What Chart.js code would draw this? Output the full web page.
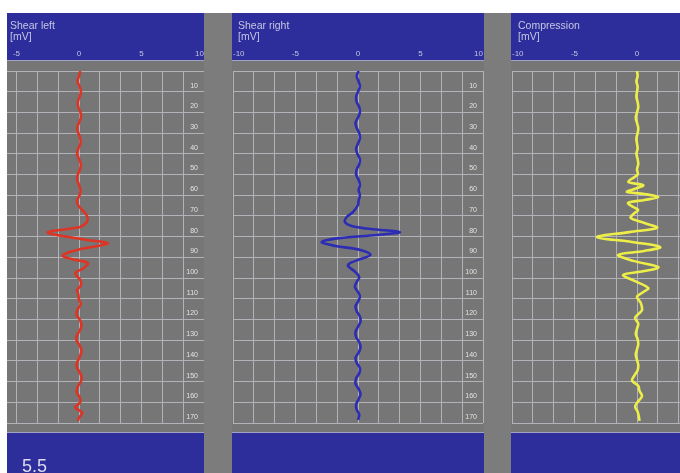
<!DOCTYPE html>
<html>
<head>
<meta charset="utf-8">
<script src="https://cdn.jsdelivr.net/npm/chart.js@4.4.0/dist/chart.umd.min.js"></script>
<style>
  html, body { margin: 0; padding: 0; background: #fff; }
  body { width: 680px; height: 473px; position: relative; overflow: hidden; font-family: "Liberation Sans", Arial, sans-serif; }
  #back { position: absolute; left: 7px; top: 13px; width: 673px; height: 460px; background: #7c7c7c; }
  .clip { position: absolute; top: 13px; height: 460px; overflow: hidden; }
  .panel { position: absolute; top: 0; width: 252px; height: 460px; }
  .title { position: absolute; top: 20px; color: #c6c6e4; font-size: 10.5px; line-height: 11px; white-space: pre; }
  .foot { position: absolute; left: 22px; top: 457px; color: #dcdcee; font-size: 18px; line-height: 18px; }
</style>
</head>
<body>
<div id="back"></div>
<div class="clip" style="left:7px;width:197px"><div class="panel" style="left:-54px"><canvas id="c1"></canvas></div></div>
<div class="clip" style="left:232px;width:252px"><div class="panel" style="left:0"><canvas id="c2"></canvas></div></div>
<div class="clip" style="left:511px;width:169px"><div class="panel" style="left:0"><canvas id="c3"></canvas></div></div>
<div class="title" style="left:10px"></div>
<div class="title" style="left:238px"></div>
<div class="title" style="left:518px"></div>
<div class="foot"></div>
<script>
// panel titles and footer value
var titles = ['Shear left', 'Shear right', 'Compression'];
var units = ['[mV]', '[mV]', '[mV]'];
var footerValue = '5.5';

// amplitude tick labels (mV) and depth tick labels
var ampTicks = [-10, -5, 0, 5, 10];
var depthTicks = [10, 20, 30, 40, 50, 60, 70, 80, 90, 100, 110, 120, 130, 140, 150, 160, 170];

// shear left trace
var depthLeft = [0, 2.5, 5, 7.5, 10, 12.5, 15, 17.5, 20, 22.5, 25, 27.5, 30, 32.5, 35, 37.5, 40, 42.5, 45, 47.5, 50, 52.5, 55, 57.5, 60,
  62.3, 64.5, 66.5, 68.6, 70.3, 72, 73.8, 75.3, 76.3, 77.8, 79, 80.2, 81.6, 83.1, 84.5, 86.4, 88, 89.3, 90.8, 92.7, 95.1, 97.6, 100.9, 103.5, 105.8, 108, 110.6,
  112.5, 115, 117.5, 120, 122.5, 125, 127.5, 130, 132.5, 135, 137.5, 140, 142.5, 145, 147.5, 150, 152.5, 155, 157.5, 160, 162.5, 165, 167.5, 169];
var ampLeft = [0.1, 0, -0.12, 0.05, 0.15, 0.05, -0.1, -0.05, 0.12, 0.15, 0, -0.15, -0.05, 0.1, 0.12, -0.05, -0.15, 0, 0.15, 0.08, -0.1, -0.15, 0, 0.12, 0.05,
  -0.15, -0.1, 0.15, 0.5, 0.65, 0.7, 0.5, 0.1, -0.9, -2.5, -2.0, -0.8, 0.6, 2.3, 1.5, -0.15, -1.0, -1.3, -0.6, 0.7, 0.4, -0.3, 0.1, 0.15, -0.15, -0.05, 0,
  0.15, -0.1, -0.2, 0.05, 0.2, 0.1, -0.15, -0.2, 0.05, 0.2, 0.1, -0.1, -0.2, 0, 0.2, 0.15, -0.1, -0.2, 0.05, 0.1, -0.3, 0.25, 0, -0.1];

// shear right trace
var depthRight = [0, 2.5, 5, 7.5, 10, 12.5, 15, 17.5, 20, 22.5, 25, 27.5, 30, 32.5, 35, 37.5, 40, 42.5, 45, 47.5, 50, 52.5, 55, 57.5,
  60, 62.5, 64.7, 68.1, 70.5, 72.9, 74.9, 76.3, 77.8, 79.2, 80.7, 82.6, 84.5, 86.4, 88.8, 90.8, 92.7, 94.1, 96.6, 99.5, 101.9, 104.3, 106.7, 108.7,
  111, 113.5, 116, 118.5, 121, 123.5, 126, 128.5, 131, 133.5, 136, 138.5, 141, 143.5, 146, 148.5, 151, 153.5, 156, 158.5, 161, 163.5, 166, 168.5];
var ampRight = [0.05, -0.1, 0.05, 0.15, 0, -0.15, -0.1, 0.1, 0.15, 0, -0.2, -0.1, 0.1, 0.15, 0, -0.15, -0.05, 0.15, 0.1, -0.1, -0.15, 0.05, 0.15, 0.05,
  0.15, 0.05, 0, -0.4, -0.9, -1.05, -0.5, 1.0, 3.35, 1.5, -1.5, -2.9, -1.8, 0.2, 1.0, 0.2, -0.6, -0.8, -0.3, 0.1, -0.1, -0.25, 0, 0.15,
  0.05, -0.2, -0.1, 0.15, 0.2, 0, -0.2, -0.15, 0.1, 0.2, 0.05, -0.2, -0.1, 0.15, 0.1, -0.15, -0.2, 0.05, 0.2, 0.05, -0.15, -0.1, 0.1, 0];

// compression trace
var depthComp = [0, 2.5, 5, 7.5, 10, 12.5, 15, 17.5, 20, 22.5, 25, 27.5, 30, 32.5, 35, 37.5, 40, 42.5, 45, 47.5, 50,
  53.6, 55.1, 57, 58.4, 59.4, 60.9, 62.3, 63.7, 65.7, 67.1, 69.1, 71, 73.4, 75.8, 77.8, 80.2, 82.6, 85, 86.9, 88.8, 91.7, 94.7, 96.6, 98.5, 101.4, 104.8, 106.7, 109.1, 112, 115.4, 117.4, 119.3,
  122, 124.5, 127, 129.5, 132, 134.5, 137, 139.5, 142, 144.5, 147, 149.5, 152, 154.5, 157, 159.5, 162, 164.5, 167, 169];
var ampComp = [0, 0.05, -0.05, 0.05, 0, -0.05, 0.05, 0.1, 0, -0.1, 0, 0.1, 0.05, -0.05, 0, 0.05, -0.05, 0.05, 0.1, 0, 0.05,
  -0.7, 0.5, -0.2, -0.8, 0.6, 1.7, 0.6, -0.7, -0.3, 0.1, -0.3, -0.5, 0.6, 1.6, -0.6, -3.2, -0.4, 1.85, 0.6, -1.5, -0.3, 1.7, 0.6, -1.1, -0.2, 0.9, 0.5, 0, 0.3, 0.4, 0.1, -0.15,
  0.1, 0, -0.1, 0.05, 0.1, 0, -0.1, 0, 0.1, 0.05, -0.2, -0.4, 0.1, 0.2, 0.4, 0.1, -0.15, 0.05, 0.15, 0.2];

var font = '"Liberation Sans", Arial, sans-serif';
var blue = '#2d2d9b';
var gridColor = '#b2b3b9';

document.querySelectorAll('.title').forEach(function (el, i) {
  el.textContent = titles[i] + '\n' + units[i];
});
document.querySelector('.foot').textContent = footerValue;

// blue header/footer bands and grey plot background
var panelBg = {
  id: 'panelBg',
  beforeDraw: function (chart) {
    var ctx = chart.ctx, w = chart.width, h = chart.height;
    ctx.save();
    ctx.fillStyle = '#767677';
    ctx.fillRect(0, 0, w, h);
    ctx.fillStyle = blue;
    ctx.fillRect(0, 0, w, 47);
    ctx.fillRect(0, 419, w, h - 419);
    ctx.fillStyle = '#a2a2c4';
    ctx.fillRect(0, 47, w, 1);
    ctx.fillRect(0, 419, w, 1);
    ctx.restore();
  }
};

function isTick(v, list) {
  return list.some(function (t) { return Math.abs(t - v) < 0.01; });
}

function makePanel(id, depth, amp, color) {
  var pts = depth.map(function (d, i) { return { x: amp[i], y: d }; });
  return new Chart(document.getElementById(id), {
    type: 'scatter',
    data: {
      datasets: [{
        data: pts,
        showLine: true,
        borderColor: color,
        borderWidth: 2.6,
        pointRadius: 0,
        tension: 0.35,
        fill: false
      }]
    },
    options: {
      responsive: true,
      maintainAspectRatio: false,
      animation: false,
      events: [],
      layout: { padding: { left: 1, right: 1, top: 0, bottom: 50 } },
      plugins: { legend: { display: false }, tooltip: { enabled: false } },
      scales: {
        x: {
          type: 'linear',
          position: 'top',
          min: ampTicks[0],
          max: ampTicks[ampTicks.length - 1],
          afterFit: function (s) { s.height = 58; },
          grid: { color: gridColor, lineWidth: 1, drawTicks: false },
          border: { display: false },
          ticks: {
            stepSize: 5 / 3,
            autoSkip: false,
            maxRotation: 0,
            align: 'inner',
            padding: 0,
            color: '#c4c4e4',
            font: { size: 8, family: font, lineHeight: '34px' },
            callback: function (v) { return isTick(v, ampTicks) ? String(Math.round(v)) : ''; }
          }
        },
        y: {
          type: 'linear',
          position: 'right',
          reverse: true,
          min: 0,
          max: depthTicks[depthTicks.length - 1],
          afterFit: function (s) { s.width = 0; },
          grid: { color: gridColor, lineWidth: 1, drawTicks: false },
          border: { display: false },
          ticks: {
            stepSize: 10,
            mirror: true,
            padding: -6,
            labelOffset: -6,
            color: '#e4e4e4',
            font: { size: 7, family: font },
            callback: function (v) { return isTick(v, depthTicks) ? String(v) : ''; }
          }
        }
      }
    },
    plugins: [panelBg]
  });
}

makePanel('c1', depthLeft, ampLeft, '#de3424');
makePanel('c2', depthRight, ampRight, '#2c2cb4');
makePanel('c3', depthComp, ampComp, '#eeee48');
</script>
</body>
</html>
